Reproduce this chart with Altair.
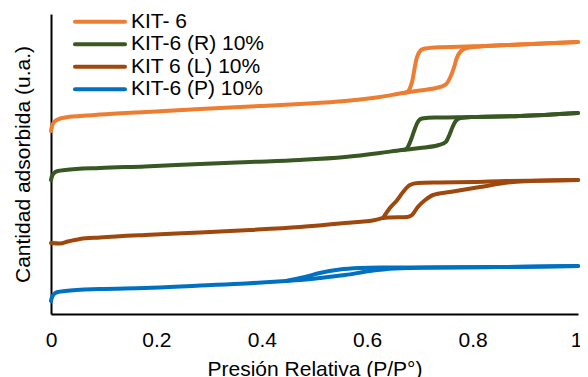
import altair as alt
import pandas as pd

# Series names and colours
series = ["KIT- 6", "KIT-6 (R) 10%", "KIT 6 (L) 10%", "KIT-6 (P) 10%"]
colors = ["#ED7D31", "#385723", "#9E480E", "#0070C0"]

# KIT- 6 (orange)
kit6_ads_p = [0, 0.002, 0.006, 0.013, 0.027, 0.055, 0.093, 0.178, 0.283, 0.378, 0.472, 0.558, 0.624, 0.668, 0.700, 0.738, 0.750, 0.757, 0.765, 0.770, 0.778, 0.789, 0.814, 0.890, 1.0]
kit6_ads_y = [183, 188, 192, 194.5, 196.5, 198, 199.5, 202, 205, 207.5, 210, 213, 217, 221, 223.5, 227, 230, 236, 247, 256, 263, 266, 267.5, 269.5, 272]
kit6_des_p = [0.668, 0.676, 0.682, 0.686, 0.690, 0.694, 0.699, 0.706, 0.729, 0.789, 0.814, 0.890, 1.0]
kit6_des_y = [221, 222, 227, 234, 246, 256, 262, 265, 266.5, 267.5, 267.8, 269.5, 272]

# KIT-6 (R) 10% (green)
r_ads_p = [0, 0.002, 0.006, 0.013, 0.027, 0.093, 0.178, 0.283, 0.378, 0.472, 0.558, 0.624, 0.666, 0.700, 0.736, 0.749, 0.756, 0.762, 0.768, 0.777, 0.798, 0.890, 1.0]
r_ads_y = [134, 138, 141, 143, 144, 146, 147.5, 150, 152, 154, 157, 161, 164, 166, 169, 172, 179, 187, 193, 196, 197, 198, 201]
r_des_p = [0.666, 0.674, 0.679, 0.685, 0.691, 0.696, 0.704, 0.729, 0.772, 0.798, 0.890, 1.0]
r_des_y = [164, 165, 169, 177, 186, 192, 195.5, 196.5, 196.7, 197, 198, 201]

# KIT 6 (L) 10% (brown)
l_ads_p = [0, 0.017, 0.032, 0.055, 0.093, 0.178, 0.283, 0.378, 0.472, 0.558, 0.615, 0.630, 0.643, 0.676, 0.685, 0.696, 0.710, 0.725, 0.757, 0.814, 0.877, 0.909, 1.0]
l_ads_y = [71, 70.5, 72.5, 75, 76.5, 79, 81.5, 84, 87, 91, 94, 96, 96.5, 97, 99, 107, 114, 119, 122, 127, 132, 133, 134]
l_des_p = [0.630, 0.643, 0.657, 0.668, 0.681, 0.696, 0.738, 0.801, 0.865, 0.909, 1.0]
l_des_y = [96, 106, 114, 122, 129, 131, 131.5, 132, 133, 133.2, 134]

# KIT-6 (P) 10% (blue)
p_ads_p = [0, 0.002, 0.006, 0.013, 0.027, 0.093, 0.178, 0.283, 0.370, 0.446, 0.472, 0.510, 0.558, 0.605, 0.652, 0.719, 0.853, 1.0]
p_ads_y = [13, 17, 20, 22, 23, 25, 26, 28.5, 30.5, 33, 34, 36, 39, 43, 45.5, 46.5, 47, 48]
p_des_p = [0.446, 0.482, 0.510, 0.548, 0.586, 0.624, 0.719, 0.853, 1.0]
p_des_y = [33, 37, 41, 44.5, 46, 46.5, 46.6, 47, 48]

branches = [
    (series[0], "ads", kit6_ads_p, kit6_ads_y), (series[0], "des", kit6_des_p, kit6_des_y),
    (series[1], "ads", r_ads_p, r_ads_y), (series[1], "des", r_des_p, r_des_y),
    (series[2], "ads", l_ads_p, l_ads_y), (series[2], "des", l_des_p, l_des_y),
    (series[3], "ads", p_ads_p, p_ads_y), (series[3], "des", p_des_p, p_des_y),
]
rows = []
for name, br, ps, ys in branches:
    for p, y in zip(ps, ys):
        rows.append({"serie": name, "rama": name + "|" + br, "p": p, "y": y})
df = pd.DataFrame(rows)

color_scale = alt.Scale(domain=series, range=colors)
FONT = "Liberation Sans"

lines = alt.Chart(df).mark_line(strokeWidth=4, strokeCap="round", strokeJoin="round", interpolate="monotone").encode(
    x=alt.X("p:Q", scale=alt.Scale(domain=[0, 1], nice=False),
            axis=alt.Axis(values=[0, 0.2, 0.4, 0.6, 0.8, 1], format="~g", ticks=False, grid=False,
                          title="Presión Relativa (P/P°)", labelPadding=15, titlePadding=8,
                          labelOffset={"condition": {"test": "datum.value === 1", "value": -2}, "value": 0},
                          labelFontSize=21, titleFontSize=21, titleFontWeight="normal",
                          labelFont=FONT, titleFont=FONT, labelColor="#000", titleColor="#000",
                          domainColor="#000", domainWidth=2, labelFlush=False)),
    y=alt.Y("y:Q", scale=alt.Scale(domain=[0, 300], nice=False),
            axis=alt.Axis(labels=False, ticks=False, grid=False, title="Cantidad adsorbida (u.a.)",
                          titleFontSize=21, titleFontWeight="normal", titleFont=FONT, titleColor="#000",
                          titlePadding=18, domainColor="#000", domainWidth=2)),
    color=alt.Color("serie:N", scale=color_scale, legend=None),
    detail="rama:N",
)

legend_df = pd.DataFrame({"serie": series, "idx": list(range(len(series)))})
leg_base = alt.Chart(legend_df).transform_calculate(ly="7.7 + 22.5 * datum.idx")
leg_rules = leg_base.mark_rule(strokeWidth=4, strokeCap="round").encode(
    x=alt.value(24), x2=alt.value(74),
    y=alt.Y("ly:Q", scale=None, axis=None),
    color=alt.Color("serie:N", scale=color_scale, legend=None),
)
leg_text = leg_base.mark_text(align="left", baseline="middle", fontSize=21, font=FONT, color="#000").encode(
    x=alt.value(80),
    y=alt.Y("ly:Q", scale=None, axis=None),
    text="serie:N",
)

chart = alt.layer(lines, leg_rules, leg_text).properties(
    width=527, height=300,
    autosize=alt.AutoSizeParams(type="none"),
    padding={"left": 43, "top": 6, "right": 2, "bottom": 63},
).configure_view(stroke=None)

chart.save("out.html", embed_options={"renderer": "svg", "actions": False})
